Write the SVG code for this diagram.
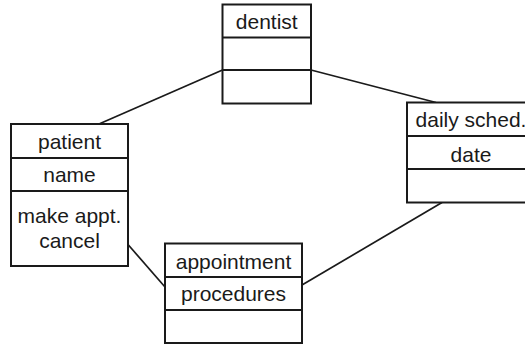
<svg xmlns="http://www.w3.org/2000/svg" width="525" height="346" viewBox="0 0 525 346">
<style>
.box{fill:#fff;stroke:#1a1a1a;stroke-width:2}
.div{stroke:#1a1a1a;stroke-width:2;fill:none}
.conn{stroke:#1a1a1a;stroke-width:1.7;fill:none}
text{font-family:"Liberation Sans",Arial,sans-serif;font-size:21px;fill:#1a1a1a;text-anchor:middle}
</style>
<rect width="525" height="346" fill="#fff"/>
<g id="connectors">
<line class="conn" x1="222.5" y1="70" x2="99" y2="124"/>
<line class="conn" x1="311" y1="70" x2="436" y2="102.5"/>
<line class="conn" x1="442" y1="202.5" x2="302" y2="285"/>
<line class="conn" x1="128" y1="244.5" x2="165" y2="287"/>
</g>
<g id="dentist">
<rect class="box" x="222.5" y="4.5" width="88.5" height="99"/>
<line class="div" x1="222.5" y1="37.5" x2="311" y2="37.5"/>
<line class="div" x1="222.5" y1="70" x2="311" y2="70"/>
<text x="266.75" y="29">dentist</text>
</g>
<g id="patient">
<rect class="box" x="11" y="124" width="117" height="142"/>
<line class="div" x1="11" y1="158" x2="128" y2="158"/>
<line class="div" x1="11" y1="191" x2="128" y2="191"/>
<text x="69.5" y="149">patient</text>
<text x="69.5" y="182">name</text>
<text x="69.5" y="223">make appt.</text>
<text x="69.5" y="248">cancel</text>
</g>
<g id="appointment">
<rect class="box" x="165" y="243.5" width="137" height="99.5"/>
<line class="div" x1="165" y1="277" x2="302" y2="277"/>
<line class="div" x1="165" y1="310" x2="302" y2="310"/>
<text x="233.5" y="268.5">appointment</text>
<text x="233.5" y="300.5">procedures</text>
</g>
<g id="daily">
<rect class="box" x="407" y="102.5" width="128" height="100"/>
<line class="div" x1="407" y1="136" x2="535" y2="136"/>
<line class="div" x1="407" y1="169" x2="535" y2="169"/>
<text x="471" y="127">daily sched.</text>
<text x="471" y="162">date</text>
</g>
</svg>
